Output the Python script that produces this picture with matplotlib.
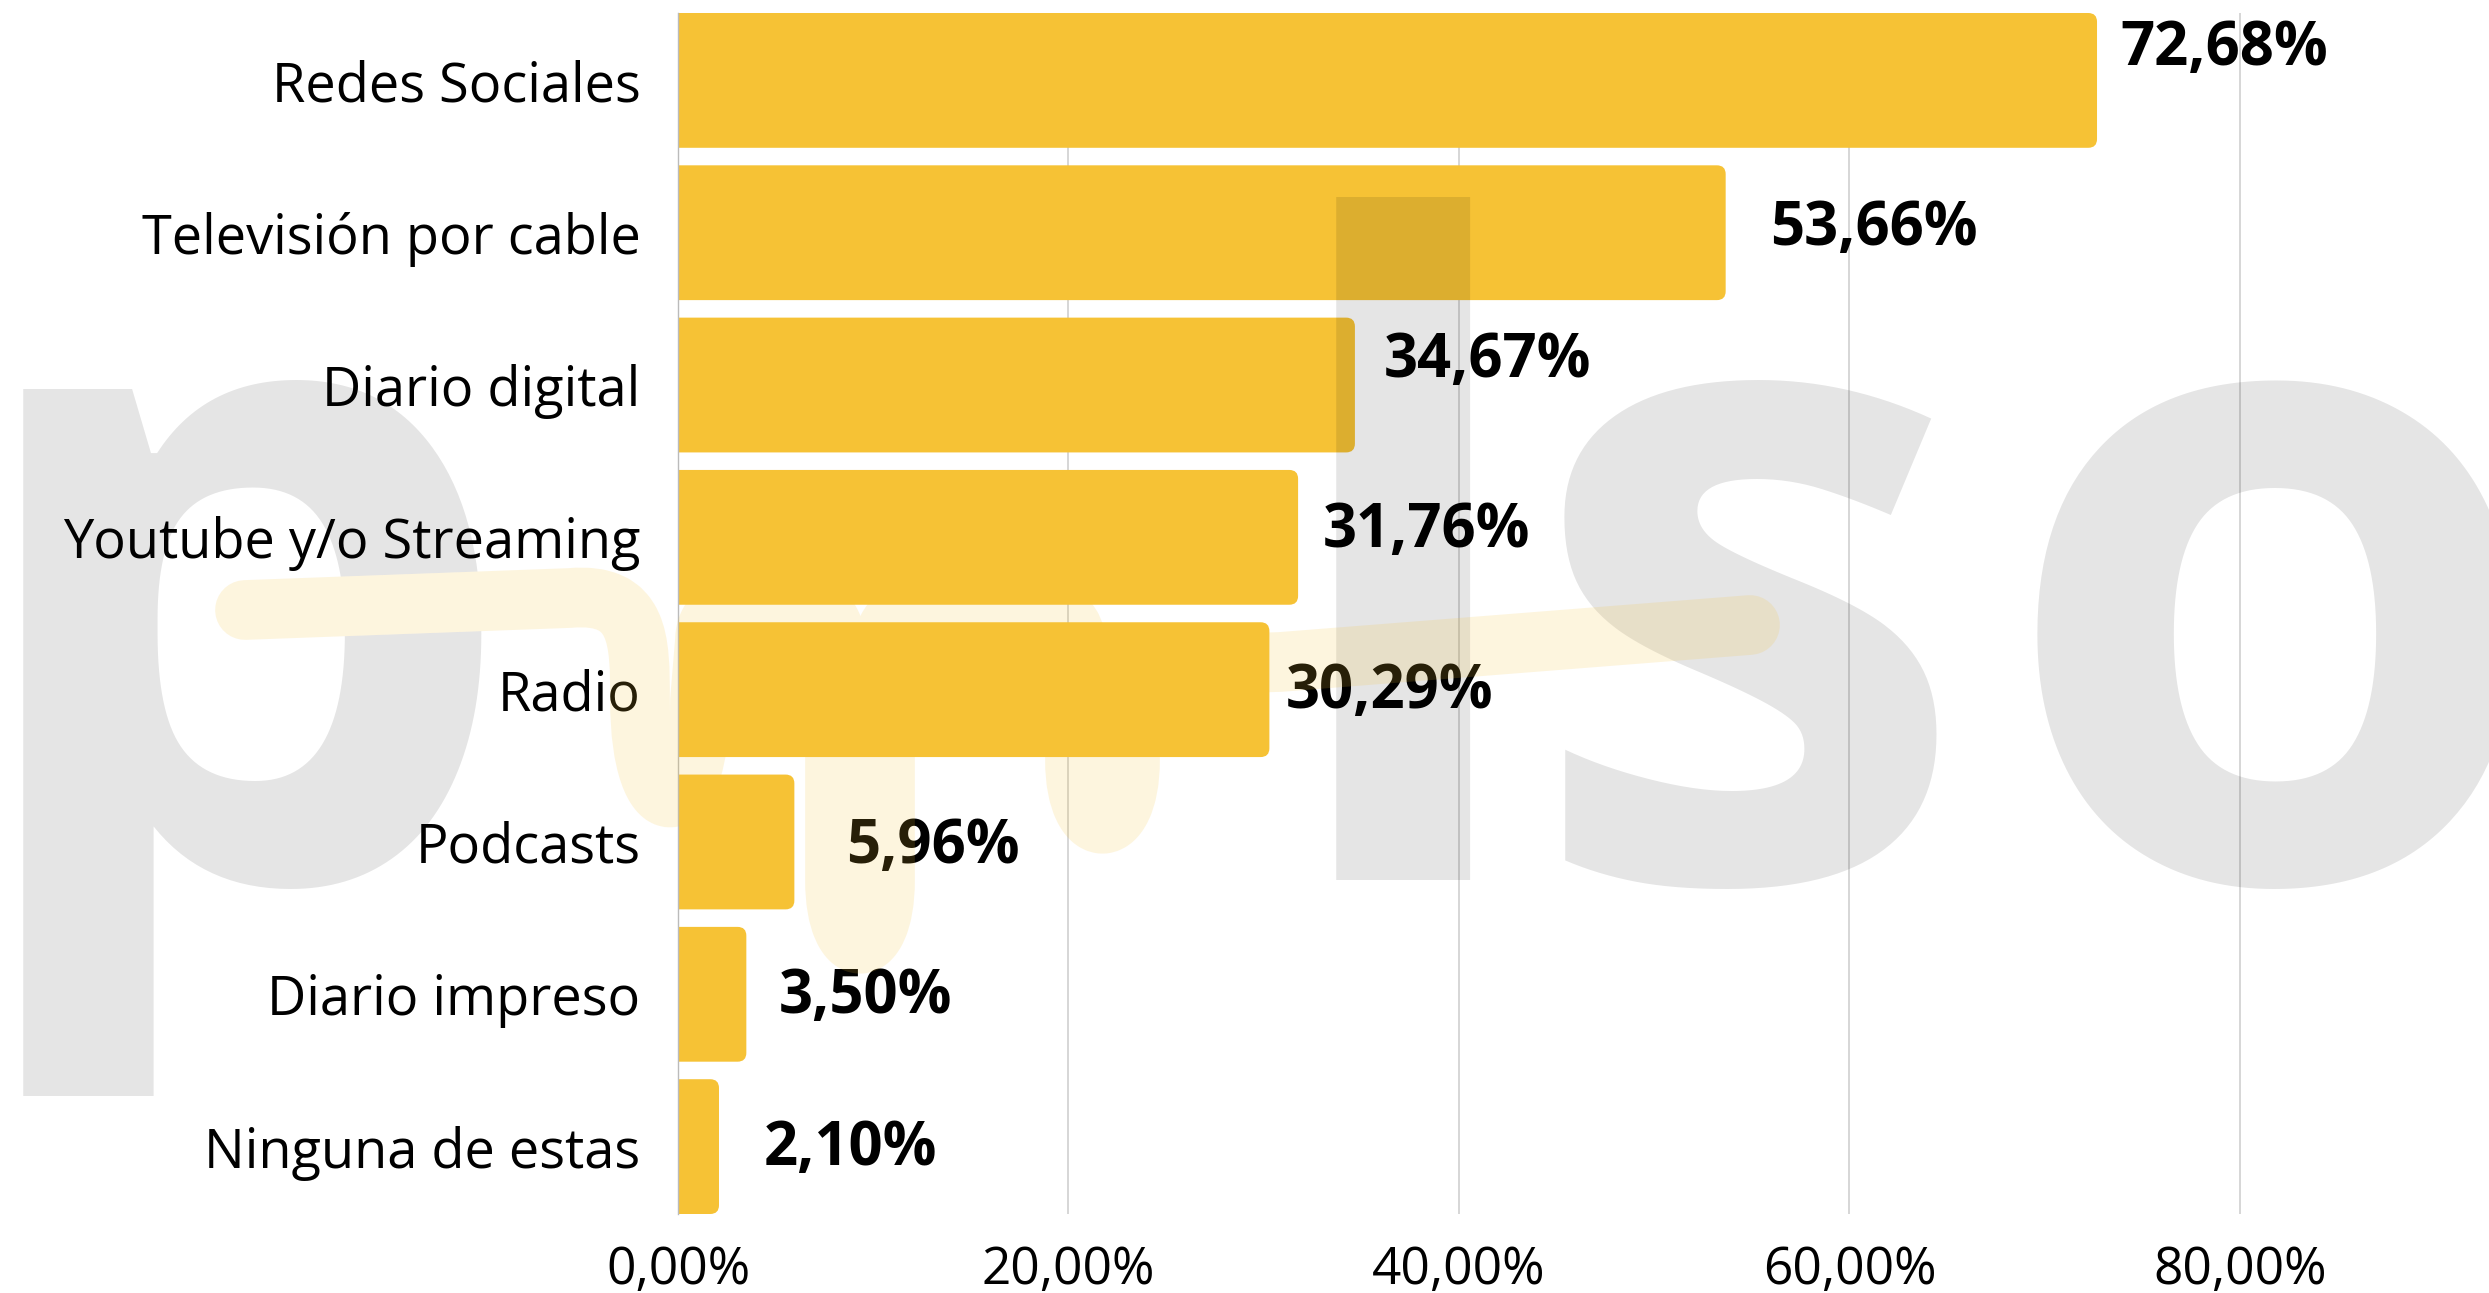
import numpy as np
import matplotlib
matplotlib.use('Agg')
import matplotlib.pyplot as plt
from matplotlib.patches import FancyBboxPatch, PathPatch
from matplotlib.path import Path
from matplotlib.transforms import Affine2D, Bbox
from matplotlib.ticker import FuncFormatter

plt.rcParams['font.family'] = ['Open Sans', 'DejaVu Sans']

categories = ['Redes Sociales', 'Televisión por cable', 'Diario digital',
              'Youtube y/o Streaming', 'Radio', 'Podcasts',
              'Diario impreso', 'Ninguna de estas']
values = [72.68, 53.66, 34.67, 31.76, 30.29, 5.96, 3.50, 2.10]
ticks = [0, 20, 40, 60, 80]

# label nudges in points (dx, dy), the source places them by hand
nudge = [(17, 22), (32, 2), (21, 17), (18, 4), (12, -2), (37, -4), (23, -2), (32, -2)]

gold = '#F6C235'
W, H = 2489, 1293
fig = plt.figure(figsize=(W / 100, H / 100), dpi=100)
ax = fig.add_axes([678 / W, 1 - 1214 / H, 1 - 678 / W, (1214 - 13) / H])

y = np.arange(len(categories))
bh = 0.885
bars = ax.barh(y, values, height=bh, color=gold, zorder=2)
# swap plain rectangles for ones with soft right corners
for b in bars:
    x0, y0, w, h = b.get_x(), b.get_y(), b.get_width(), b.get_height()
    p = FancyBboxPatch((x0 - 2, y0), w + 2, h,
                       boxstyle='round,pad=0,rounding_size=0.45',
                       mutation_aspect=19.5 / 152,
                       fc=gold, ec='none', zorder=2)
    ax.add_patch(p)
    b.remove()

ax.set_ylim(len(categories) - 1 + bh / 2, -bh / 2)
ax.set_xlim(0, (W - 677) / 390.7 * 20)
ax.set_xticks(ticks)
ax.xaxis.set_major_formatter(FuncFormatter(lambda v, p: f'{v:.2f}%'.replace('.', ',')))
ax.set_yticks(y)
ax.set_yticklabels(categories)
ax.tick_params(axis='y', length=0, pad=27, labelsize=39)
ax.tick_params(axis='x', length=0, pad=22, labelsize=37)
ax.grid(axis='x', color='#cccccc', lw=1.1, zorder=1)
ax.set_axisbelow(True)
for s in ['top', 'right', 'bottom']:
    ax.spines[s].set_visible(False)
ax.spines['left'].set_color('#bbbbbb')
ax.spines['left'].set_linewidth(1)

for i, v in enumerate(values):
    dx, dy = nudge[i]
    ax.annotate(f'{v:.2f}%'.replace('.', ','), (v, i), xytext=(dx, dy),
                textcoords='offset points', ha='left', va='center',
                fontsize=43, fontweight='bold', color='black', zorder=4)

# faint "pulso" watermark laid over the chart
for ch, xl in [('p', -47), ('l', 1266), ('s', 1524), ('o', 1997)]:
    fig.text(xl / W, 1 - 880 / H, ch, ha='left', va='baseline',
             fontsize=647, fontweight='bold', color='black', alpha=0.1, zorder=3)

# the pale pulse stroke of the logo (pixel coords, y from top)
M, L, C = Path.MOVETO, Path.LINETO, Path.CURVE4
wave = [(M, (245, 610)), (L, (570, 598)),
        (C, (640, 592)), (C, (640, 640)), (C, (640, 700)),
        (C, (640, 830)), (C, (700, 830)), (C, (700, 700)),
        (L, (705, 640)),
        (C, (705, 580)), (C, (835, 580)), (C, (835, 640)),
        (L, (835, 880)),
        (C, (835, 965)), (C, (885, 965)), (C, (885, 880)),
        (L, (885, 640)),
        (C, (885, 580)), (C, (1075, 580)), (C, (1075, 640)),
        (L, (1075, 760)),
        (C, (1075, 845)), (C, (1130, 845)), (C, (1130, 760)),
        (L, (1130, 700)),
        (C, (1130, 660)), (C, (1200, 665)), (C, (1280, 662)),
        (L, (1750, 625))]
wpath = Path([v for _, v in wave], [c for c, _ in wave])
to_fig = Affine2D().scale(1 / W, -1 / H).translate(0, 1) + fig.transFigure
# the stroke hides the grey letter where it crosses it
knock = PathPatch(wpath, transform=to_fig, fill=False, ec='white', lw=43,
                  capstyle='round', joinstyle='round', zorder=4)
knock.set_clip_box(Bbox.from_extents(0, 0, 560, H))
fig.add_artist(knock)
fig.add_artist(PathPatch(wpath, transform=to_fig, fill=False,
                         ec=gold, lw=43, alpha=0.16,
                         capstyle='round', joinstyle='round', zorder=5))

fig.savefig('out.png', dpi=100)
